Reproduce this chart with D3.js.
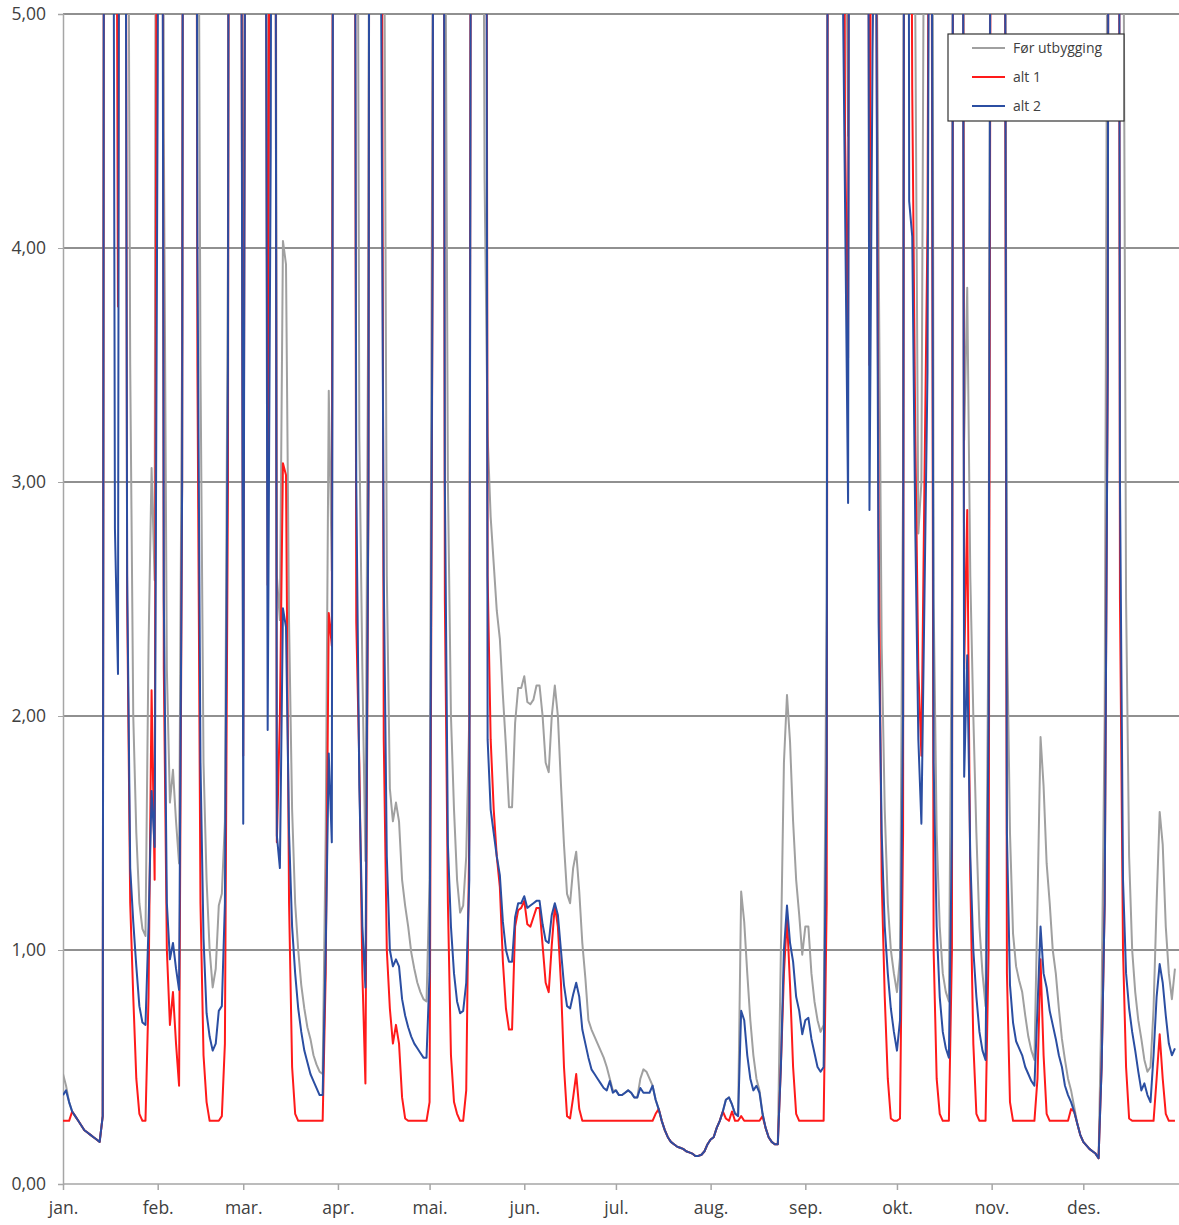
<!DOCTYPE html>
<html>
<head>
<meta charset="utf-8">
<script src="https://cdn.jsdelivr.net/npm/d3@7/dist/d3.min.js"></script>
<style>
  body { margin: 0; background: #fff; }
  text { font-family: "Open Sans", sans-serif; fill: #404040; }
</style>
</head>
<body>
<div id="chart"></div>
<script>
// month labels + first day of each month (day index in year)
var months = ["jan.", "feb.", "mar.", "apr.", "mai.", "jun.", "jul.", "aug.", "sep.", "okt.", "nov.", "des."];
var monthStart = [0, 31, 59, 90, 120, 151, 181, 212, 243, 273, 304, 334];
var yTicks = [0, 1, 2, 3, 4, 5];
var seriesNames = ["Før utbygging", "alt 1", "alt 2"];

// daily values (values above 5 are clipped in the chart)
var forUtbygging = [
  .47,.42,.35,.31,.29,.27,.25,.23,.22,.21,
  .20,.19,.18,.29,14,18,12,10,9,14,
  12,7,3.5,2.0,1.5,1.2,1.09,1.06,2.3,3.06,
  2.58,12,14,4.5,2.2,1.63,1.77,1.55,1.37,3.6,
  14,16,14,12,7,3.5,1.8,1.3,1.0,.84,
  .92,1.19,1.24,1.55,4,14,16,12,8,2.8,
  8,14,16,14,12,10,8,3.52,6,12,
  2.6,2.41,4.03,3.93,2.4,1.6,1.2,1.0,.85,.75,
  .67,.62,.55,.51,.48,.47,1.5,3.39,2.62,12,
  14,16,15,14,12,10,8,3.2,2.2,1.38,
  4,14,16,12,10,6,2.6,1.69,1.55,1.63,
  1.55,1.3,1.19,1.1,.99,.92,.86,.82,.79,.78,
  1.3,5,14,15,12,6,3.0,2.0,1.6,1.3,
  1.16,1.19,1.4,2.0,10,14,16,8,4.3,3.2,
  2.85,2.65,2.45,2.33,2.09,1.87,1.61,1.61,1.97,2.12,
  2.12,2.17,2.06,2.05,2.07,2.13,2.13,2.0,1.8,1.76,
  2.0,2.13,2.0,1.71,1.45,1.24,1.2,1.35,1.42,1.25,
  1.03,.88,.7,.66,.63,.6,.57,.54,.5,.45,
  .4,.4,.38,.38,.39,.4,.39,.37,.37,.45,
  .49,.48,.45,.42,.36,.32,.27,.23,.2,.18,
  .17,.16,.155,.15,.14,.135,.13,.12,.12,.125,
  .14,.17,.19,.2,.24,.27,.31,.36,.37,.34,
  .3,.3,1.25,1.12,.9,.7,.55,.45,.4,.3,
  .24,.2,.18,.17,.17,1.0,1.8,2.09,1.89,1.55,
  1.3,1.15,.98,1.1,1.1,.9,.78,.7,.65,.68,
  2.5,14,16,14,12,10,6,4.48,12,14,
  16,14,12,10,4.45,8,6,4.0,2.3,1.6,
  1.2,1.0,.9,.82,.97,3.0,14,10,8,5,
  2.78,3.0,6,10,12,2.5,1.5,1.1,.9,.82,
  .78,2.5,14,16,12,3.18,3.83,2.6,2.0,1.5,
  1.1,.9,.76,2.5,8,14,16,14,8,2.4,
  1.5,1.07,.93,.87,.82,.72,.63,.57,.53,1.2,
  1.91,1.7,1.37,1.2,1.0,.9,.75,.62,.53,.45,
  .4,.33,.26,.21,.18,.165,.15,.14,.13,.11,
  .8,2.0,6,14,16,14,10,6,2.5,1.4,
  1.0,.82,.7,.62,.53,.48,.5,.75,1.2,1.59,
  1.45,1.1,.9,.79,.92
];

var alt1 = [
  .27,.27,.27,.31,.29,.27,.25,.23,.22,.21,
  .20,.19,.18,.29,14,18,12,8,3.75,12,
  10,2.5,1.2,.8,.45,.3,.27,.27,.8,2.11,
  1.3,8,12,2.2,1.0,.68,.82,.6,.42,3.0,
  14,16,14,12,3.5,1.2,.55,.35,.27,.27,
  .27,.27,.29,.6,3,14,16,12,8,1.83,
  8,14,16,14,12,10,8,2.56,8,12,
  1.46,2.0,3.08,3.03,1.2,.5,.3,.27,.27,.27,
  .27,.27,.27,.27,.27,.27,.9,2.44,2.3,12,
  14,16,15,14,12,10,2.4,1.8,.9,.43,
  3,14,16,12,8,1.9,1.0,.75,.6,.68,
  .6,.37,.28,.27,.27,.27,.27,.27,.27,.27,
  .35,4,14,15,12,2.5,1.2,.55,.35,.3,
  .27,.27,.4,1.5,10,14,16,14,12,2.6,
  1.9,1.6,1.4,1.27,.95,.75,.66,.66,1.1,1.17,
  1.18,1.21,1.11,1.1,1.14,1.18,1.18,1.02,.86,.82,
  1.02,1.19,1.1,.86,.5,.29,.28,.37,.47,.32,
  .27,.27,.27,.27,.27,.27,.27,.27,.27,.27,
  .27,.27,.27,.27,.27,.27,.27,.27,.27,.27,
  .27,.27,.27,.27,.3,.32,.27,.23,.2,.18,
  .17,.16,.155,.15,.14,.135,.13,.12,.12,.125,
  .14,.17,.19,.2,.24,.27,.31,.28,.27,.31,
  .27,.27,.29,.27,.27,.27,.27,.27,.27,.29,
  .24,.2,.18,.17,.17,.5,.9,1.14,.85,.5,
  .3,.27,.27,.27,.27,.27,.27,.27,.27,.27,
  1.2,14,16,14,12,10,4.5,3.53,12,14,
  16,14,12,10,3.5,8,6,2.8,1.3,.8,
  .45,.28,.27,.27,.28,1.5,14,8,4.68,3.2,
  2.2,1.83,3.0,4.09,8,1.0,.45,.3,.27,.27,
  .27,1.0,14,16,12,2.2,2.88,1.3,.6,.3,
  .27,.27,.27,1.0,8,14,16,14,8,.9,
  .35,.27,.27,.27,.27,.27,.27,.27,.27,.45,
  .96,.55,.3,.27,.27,.27,.27,.27,.27,.27,
  .32,.31,.26,.21,.18,.165,.15,.14,.13,.11,
  .5,1.2,3.5,14,16,14,2.5,1.0,.5,.28,
  .27,.27,.27,.27,.27,.27,.27,.27,.45,.64,
  .45,.3,.27,.27,.27
];

var alt2 = [
  .38,.40,.35,.31,.29,.27,.25,.23,.22,.21,
  .20,.19,.18,.29,14,18,9,2.8,2.18,12,
  9,2.6,1.35,1.12,.93,.76,.69,.68,1.1,1.68,
  1.44,4.72,10,2.5,1.2,.96,1.03,.92,.83,3.0,
  14,16,14,12,4,1.8,1.05,.73,.63,.57,
  .6,.74,.76,1.2,3.5,14,16,12,8,1.54,
  8,14,16,14,12,10,8,1.94,4.42,12,
  1.49,1.35,2.46,2.38,1.5,1.1,.9,.75,.65,.57,
  .52,.47,.44,.41,.38,.38,1.0,1.84,1.46,12,
  14,16,15,14,12,10,3,1.7,1.1,.84,
  3,14,16,12,5.5,2.6,1.4,1.0,.93,.96,
  .93,.79,.72,.67,.63,.6,.58,.56,.54,.54,
  .9,4,14,15,12,3,1.45,1.1,.9,.78,
  .73,.74,.86,1.3,10,14,16,14,12,1.9,
  1.6,1.5,1.4,1.32,1.12,1.0,.95,.95,1.14,1.2,
  1.2,1.23,1.18,1.19,1.2,1.21,1.21,1.11,1.04,1.03,
  1.15,1.2,1.15,1.0,.85,.76,.75,.81,.86,.8,
  .66,.6,.54,.49,.47,.45,.43,.41,.4,.44,
  .39,.4,.38,.38,.39,.4,.39,.37,.37,.41,
  .39,.39,.39,.42,.36,.32,.27,.23,.2,.18,
  .17,.16,.155,.15,.14,.135,.13,.12,.12,.125,
  .14,.17,.19,.2,.24,.27,.31,.36,.37,.34,
  .3,.29,.74,.7,.55,.45,.4,.42,.39,.3,
  .24,.2,.18,.17,.17,.5,1.0,1.19,1.03,.95,
  .8,.74,.64,.7,.71,.62,.56,.5,.48,.5,
  1.8,14,16,14,12,5.5,4.2,2.91,12,14,
  16,14,12,10,2.88,4.83,6,2.4,1.5,1.1,
  .9,.75,.65,.57,.7,2.0,14,4.2,4.05,2.8,
  1.9,1.54,2.5,3.47,8,1.8,1.1,.8,.65,.58,
  .54,1.5,14,16,12,1.74,2.26,1.4,1.0,.8,
  .65,.57,.53,2.0,8,14,16,14,8,1.5,
  .85,.69,.61,.58,.55,.5,.47,.44,.42,.75,
  1.1,.9,.84,.74,.68,.62,.55,.5,.42,.38,
  .35,.31,.26,.21,.18,.165,.15,.14,.13,.11,
  .5,1.2,3.5,14,16,14,3,1.3,.9,.75,
  .65,.57,.48,.4,.43,.38,.35,.55,.8,.94,
  .86,.72,.6,.55,.58
];

var colors = ["#a0a0a0", "#ff1a1a", "#2b4ea2"];

var width = 1179, height = 1225;
var mLeft = 63, mRight = 1178, mTop = 14, mBottom = 1184;

var x = d3.scaleLinear().domain([0, 365]).range([mLeft, mRight]);
var y = d3.scaleLinear().domain([0, 5]).range([mBottom, mTop]);

var svg = d3.select("#chart").append("svg")
  .attr("width", width)
  .attr("height", height);

svg.append("defs").append("clipPath").attr("id", "plot")
  .append("rect")
  .attr("x", mLeft).attr("y", mTop)
  .attr("width", width - mLeft).attr("height", mBottom - mTop);

// gridlines
svg.append("g").selectAll("line")
  .data(yTicks.filter(function(d) { return d > 0; }))
  .enter().append("line")
  .attr("x1", mLeft).attr("x2", width)
  .attr("y1", function(d) { return y(d); })
  .attr("y2", function(d) { return y(d); })
  .attr("stroke", "#222")
  .attr("stroke-width", 1.2);

// y axis
var yAxis = d3.axisLeft(y)
  .tickValues(yTicks)
  .tickSize(5)
  .tickPadding(12)
  .tickFormat(function(d) { return d3.format(".2f")(d).replace(".", ","); });

var gy = svg.append("g").attr("transform", "translate(" + mLeft + ",0)").call(yAxis);
gy.select(".domain").attr("stroke", "#a6a6a6").attr("stroke-width", 1.5);
gy.selectAll(".tick line").attr("stroke", "#a6a6a6");
gy.selectAll("text").style("font-size", "17.5px").attr("fill", "#404040");

// x axis
var xAxis = d3.axisBottom(x)
  .tickValues(monthStart)
  .tickSize(6)
  .tickPadding(12)
  .tickFormat(function(d, i) { return months[i]; });

var gx = svg.append("g").attr("transform", "translate(0," + mBottom + ")").call(xAxis);
gx.select(".domain").attr("stroke", "#a6a6a6").attr("stroke-width", 1.5)
  .attr("d", "M" + mLeft + ",0H" + width);
gx.selectAll(".tick line").attr("stroke", "#a6a6a6").attr("stroke-width", 1.5);
gx.selectAll("text").style("font-size", "17.5px").attr("fill", "#404040");

// lines
var line = d3.line()
  .x(function(d, i) { return x(i); })
  .y(function(d) { return y(d); });

var lines = svg.append("g").attr("clip-path", "url(#plot)");
[forUtbygging, alt1, alt2].forEach(function(s, k) {
  lines.append("path")
    .datum(s)
    .attr("fill", "none")
    .attr("stroke", colors[k])
    .attr("stroke-width", 2)
    .attr("stroke-linejoin", "round")
    .attr("d", line);
});

// legend
var lg = svg.append("g").attr("transform", "translate(948,34)");
lg.append("rect")
  .attr("width", 176).attr("height", 87)
  .attr("fill", "#fff").attr("stroke", "#333").attr("stroke-width", 1.2);
seriesNames.forEach(function(n, k) {
  var yy = 14 + k * 29;
  lg.append("line")
    .attr("x1", 24).attr("x2", 57)
    .attr("y1", yy).attr("y2", yy)
    .attr("stroke", colors[k]).attr("stroke-width", 2);
  lg.append("text")
    .attr("x", 65).attr("y", yy)
    .attr("dy", "0.35em")
    .style("font-size", "14px")
    .text(n);
});
</script>
</body>
</html>
